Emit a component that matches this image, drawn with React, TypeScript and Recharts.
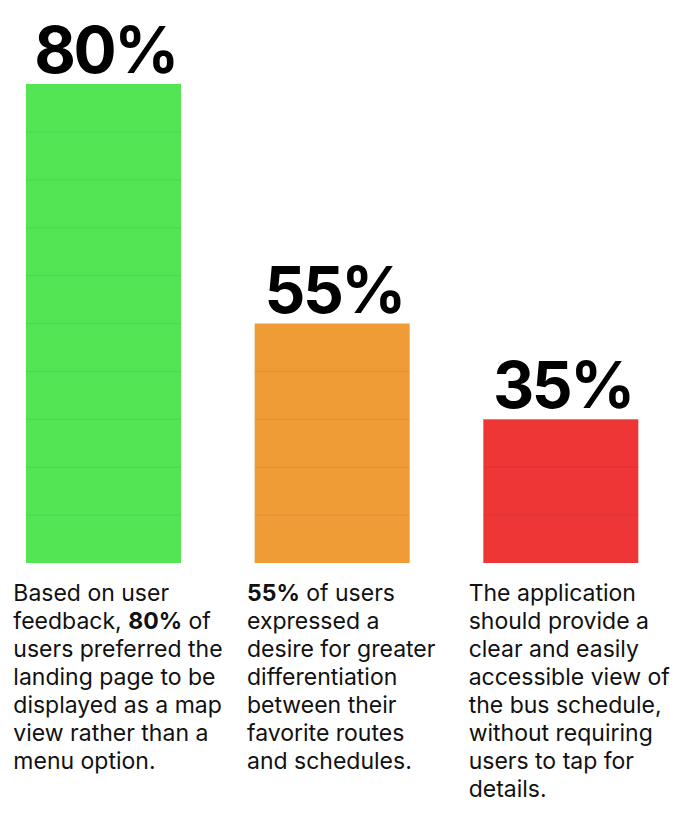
import { BarChart, Bar, XAxis, YAxis, LabelList } from "recharts";

const categories = ["Map view", "Favorites", "Schedule"];
const percentLabels = ["80%", "55%", "35%"];
// bar heights, in grid steps
const barSteps = [10, 5, 3];
const barColors = ["#54E554", "#EF9C36", "#EE3636"];

// "**" marks the bold part
const descriptions = [
  [
    "Based on user",
    "feedback, **80%** of",
    "users preferred the",
    "landing page to be",
    "displayed as a map",
    "view rather than a",
    "menu option.",
  ],
  [
    "**55%** of users",
    "expressed a",
    "desire for greater",
    "differentiation",
    "between their",
    "favorite routes",
    "and schedules.",
  ],
  [
    "The application",
    "should provide a",
    "clear and easily",
    "accessible view of",
    "the bus schedule,",
    "without requiring",
    "users to tap for",
    "details.",
  ],
];

const data = categories.map((name, i) => ({
  name,
  steps: barSteps[i],
  label: percentLabels[i],
  idx: i,
}));

const textOffsets = [-90, -85, -92];

function SegmentedBar(props: any) {
  const { x, y, width, height, payload } = props;
  const unit = height / payload.steps;
  const lines = [];
  for (let k = 1; k < payload.steps; k++) {
    const ly = y + height - k * unit;
    lines.push(
      <line
        key={k}
        x1={x}
        x2={x + width}
        y1={ly}
        y2={ly}
        stroke="rgba(0,0,0,0.05)"
        strokeWidth={1.5}
      />
    );
  }
  return (
    <g>
      <rect x={x} y={y} width={width} height={height} fill={barColors[payload.idx]} />
      {lines}
    </g>
  );
}

function BigLabel(props: any) {
  const { x, y, width, value } = props;
  return (
    <text
      x={x + width / 2 + 2}
      y={y - 11}
      textAnchor="middle"
      fontFamily="Inter"
      fontWeight={700}
      fontSize={64}
      letterSpacing={-2.5}
      fill="#000"
    >
      {value}
    </text>
  );
}

function DescTick(props: any) {
  const { x, y, index } = props;
  const lines = descriptions[index] || [];
  const left = x + textOffsets[index];
  return (
    <text fontFamily="Inter" fontSize={23} fill="#111">
      {lines.map((line, li) => (
        <tspan key={li} x={left} y={y + 38 + li * 28}>
          {line.split("**").map((part, pi) => (
            <tspan key={pi} fontWeight={pi % 2 === 1 ? 700 : 400}>
              {part}
            </tspan>
          ))}
        </tspan>
      ))}
    </text>
  );
}

export default function App() {
  return (
    <div style={{ position: "absolute", left: -11, top: 0, background: "#fff" }}>
      <BarChart
        width={686}
        height={822}
        data={data}
        margin={{ top: 84, right: 0, left: 0, bottom: 0 }}
      >
        <XAxis
          dataKey="name"
          height={259}
          axisLine={false}
          tickLine={false}
          tickSize={0}
          tickMargin={0}
          interval={0}
          tick={<DescTick />}
        />
        <YAxis hide domain={[0, 10]} width={0} />
        <Bar dataKey="steps" barSize={155} shape={<SegmentedBar />} isAnimationActive={false}>
          <LabelList dataKey="label" content={<BigLabel />} />
        </Bar>
      </BarChart>
    </div>
  );
}
